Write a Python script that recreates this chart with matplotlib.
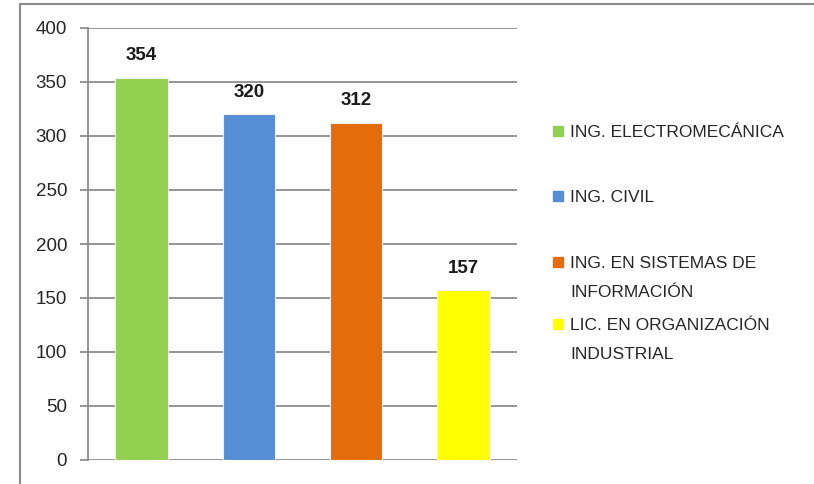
import matplotlib.pyplot as plt
from matplotlib.patches import Rectangle

# datos del grafico
carreras = ['ING. ELECTROMECÁNICA', 'ING. CIVIL',
            'ING. EN SISTEMAS DE\nINFORMACIÓN', 'LIC. EN ORGANIZACIÓN\nINDUSTRIAL']
alumnos = [354, 320, 312, 157]
colores = ['#92D050', '#558ED5', '#E46C0A', '#FFFF00']
yticks = [0, 50, 100, 150, 200, 250, 300, 350, 400]

plt.rcParams['font.family'] = ['Liberation Sans', 'DejaVu Sans']

W, H = 814, 484
fig = plt.figure(figsize=(W/100, H/100), dpi=100)

# marco exterior
fig.patches.append(Rectangle((20/W, -0.1), 2, 1.1 - 4/H, transform=fig.transFigure,
                             fill=False, edgecolor='#8c8c8c', linewidth=1.5))

ax = fig.add_axes([88/W, 1 - 460/H, (517-88)/W, (460-28)/H])
x = range(len(alumnos))
ax.bar(x, alumnos, width=0.49, color=colores, edgecolor='#f0f0f0', linewidth=0.8, zorder=3)
for i, v in enumerate(alumnos):
    ax.annotate(str(v), (i, v), xytext=(0, 10), textcoords='offset points',
                ha='center', va='bottom', fontsize=13.5, fontweight='bold', color='#1a1a1a')

ax.set_xlim(-0.5, 3.5)
ax.set_ylim(0, 400)
ax.set_yticks(yticks)
ax.set_xticks([])
ax.yaxis.grid(True, color='#8c8c8c', linewidth=1.3, zorder=0)
ax.tick_params(axis='y', length=6, width=1.3, color='#8c8c8c', pad=9,
               labelsize=13.5, labelcolor='#262626')
for s in ['top', 'right', 'bottom']:
    ax.spines[s].set_visible(False)
ax.spines['left'].set_color('#8c8c8c')
ax.spines['left'].set_linewidth(1.3)

# leyenda manual
ys = [131, 196, 262, 324]
for c, lab, yy in zip(colores, carreras, ys):
    fig.patches.append(Rectangle((553/W, 1 - (yy + 5)/H), 10/W, 10/H,
                                 transform=fig.transFigure, color=c))
    for k, linea in enumerate(lab.split('\n')):
        fig.text(570/W, 1 - (yy + 29*k)/H, linea, fontsize=12.5, color='#262626',
                 va='center_baseline', ha='left')

fig.savefig('out.png', dpi=100)
